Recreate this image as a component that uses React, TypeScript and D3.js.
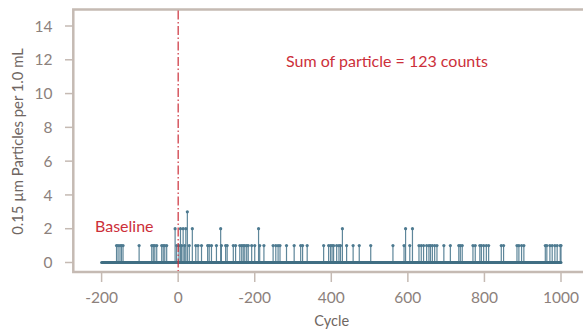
import React from "react";
import * as d3 from "d3";

const W = 583;
const H = 332;

// cycles with count = 1
const onesCycles = [
  -161, -157, -152, -148, -144, -102, -69, -65, -61, -56, -43, -39, -35, -30,
  -4, 2, 9, 17, 29,
  46, 52, 61, 77, 81, 87, 100, 113, 124, 128, 144, 150, 161, 166, 170, 174, 179, 183,
  192, 200, 213, 224, 248, 255, 261, 266, 283, 303, 320, 337,
  325, 380, 393, 398, 402, 406, 414, 420, 424, 440, 457, 473, 503, 561, 590, 605,
  629, 635, 641, 649, 655, 659, 664, 670, 676, 694, 711, 733, 737, 742, 770, 776,
  788, 792, 798, 805, 811, 844, 850, 885, 890, 897, 903, 959, 963, 971, 977, 984,
  990, 998, 1000,
];
// cycles with count = 2
const twosCycles = [-8, 6, 13, 20, 37, 111, 210, 429, 594, 612];
// cycles with count = 3
const threesCycles = [24];

const xTickValues = [-200, 0, 200, 400, 600, 800, 1000];
const xTickLabels = ["-200", "0", "-200", "400", "600", "800", "1000"];
const yTickValues = [0, 2, 4, 6, 8, 10, 12, 14];
const cycleRange = [-200, 1000];

const points = [
  ...onesCycles.map((c) => ({ c, v: 1 })),
  ...twosCycles.map((c) => ({ c, v: 2 })),
  ...threesCycles.map((c) => ({ c, v: 3 })),
];
const total = points.reduce((s, p) => s + p.v, 0);

export default function App() {
  const x = d3.scaleLinear().domain([-200, 1000]).range([101.6, 561]);
  const y = d3.scaleLinear().domain([0, 14]).range([262.5, 26]);
  const frameL = 73.3;
  const frameT = 9.5;
  const frameB = 272;
  const frameColor = "#c5bab3";
  const grey = "#8c817c";
  const red = "#cc2f3a";
  const stem = "#4d7a90";
  const font = "Lato, 'Open Sans', sans-serif";

  return (
    <svg
      width={W}
      height={H}
      style={{ position: "absolute", left: 0, top: 0, background: "#fff" }}
      fontFamily={font}
    >
      {/* frame */}
      <rect
        x={frameL}
        y={frameT}
        width={W + 20 - frameL}
        height={frameB - frameT}
        fill="none"
        stroke={frameColor}
        strokeWidth={2.5}
      />
      {/* y ticks */}
      {yTickValues.map((t) => (
        <g key={"y" + t}>
          <line x1={65} x2={frameL} y1={y(t)} y2={y(t)} stroke={frameColor} strokeWidth={1.5} />
          <text
            x={52.5}
            y={y(t)}
            dy="0.36em"
            textAnchor="end"
            fontSize={15.5}
            fill={grey}
          >
            {t}
          </text>
        </g>
      ))}
      {/* x ticks */}
      {xTickValues.map((t, i) => (
        <g key={"x" + t + i}>
          <line x1={x(t)} x2={x(t)} y1={frameB} y2={282} stroke={frameColor} strokeWidth={1.5} />
          <text x={x(t)} y={303} textAnchor="middle" fontSize={15.5} fill={grey}>
            {xTickLabels[i]}
          </text>
        </g>
      ))}
      <text x={331.7} y={325.5} textAnchor="middle" fontSize={14.5} fill="#6f6662">
        Cycle
      </text>
      <text
        transform={`translate(22.5,141.5) rotate(-90)`}
        textAnchor="middle"
        fontSize={14.8}
        fill="#6f6662"
      >
        0.15 µm Particles per 1.0 mL
      </text>

      {/* stems */}
      {points.map((p, i) => (
        <g key={"p" + i}>
          <line
            x1={x(p.c)}
            x2={x(p.c)}
            y1={y(0)}
            y2={y(p.v)}
            stroke={stem}
            strokeWidth={1.2}
            opacity={0.9}
          />
          <circle cx={x(p.c)} cy={y(p.v)} r={1.6} fill={stem} />
        </g>
      ))}
      {/* baseline data line */}
      <line
        x1={x(cycleRange[0])}
        x2={x(cycleRange[1])}
        y1={y(0)}
        y2={y(0)}
        stroke="#406e83"
        strokeWidth={3}
        strokeLinecap="round"
      />

      {/* red dashed line at cycle 0 */}
      <line
        x1={x(0)}
        x2={x(0)}
        y1={frameT + 1}
        y2={frameB - 1}
        stroke={red}
        strokeWidth={1.2}
        strokeDasharray="9,2.5,1.5,2.5"
      />
      <text x={95} y={232} fontSize={16} fill={red}>
        Baseline
      </text>
      <text x={286} y={67} fontSize={16} fill={red}>
        {`Sum of particle = ${total} counts`}
      </text>
    </svg>
  );
}
